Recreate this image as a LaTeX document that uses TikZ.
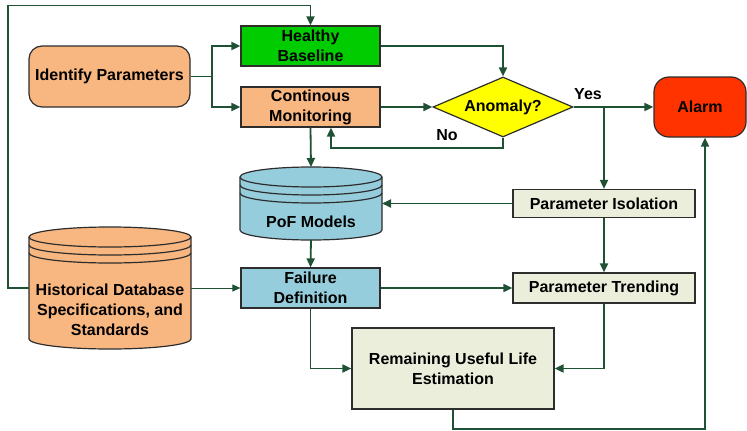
\documentclass[tikz,border=0pt]{standalone}
\usepackage{fontspec}
\setmainfont{Liberation Sans}
\usetikzlibrary{shapes.geometric,arrows.meta}

\definecolor{lineg}{RGB}{31,82,52}
\definecolor{edgeg}{RGB}{45,45,45}
\definecolor{healthy}{RGB}{0,204,0}
\definecolor{peach}{RGB}{248,182,128}
\definecolor{anomaly}{RGB}{255,255,0}
\definecolor{alarmred}{RGB}{255,51,0}
\definecolor{pofblue}{RGB}{150,205,220}
\definecolor{paper}{RGB}{236,238,220}

\tikzset{
  txt/.style={align=center, inner sep=0pt, font=\fontsize{16}{20}\selectfont\bfseries},
  box/.style={txt, draw=edgeg, line width=1.2pt},
  rbox/.style={box, rounded corners=13pt},
  drumline/.style={draw=edgeg, line width=1.2pt},
  arr/.style={draw=lineg, line width=1.8pt, -{Triangle[length=9pt,width=8pt]}},
}

% cylinder: centre x, half width, top, bottom, y radius, fill
\newcommand\drum[6]{%
  \filldraw[drumline, fill=#6] (#1-#2,#3+#5) -- (#1-#2,#4-#5)
    arc[start angle=180, end angle=360, x radius=#2pt, y radius=#5pt]
    -- (#1+#2,#3+#5)
    arc[start angle=0, end angle=180, x radius=#2pt, y radius=#5pt] -- cycle;
  \foreach \d in {0,8,16}
    \draw[drumline] (#1-#2,#3+#5+\d)
      arc[start angle=180, end angle=360, x radius=#2pt, y radius=#5pt];
}

\begin{document}
\begin{tikzpicture}[x=1pt, y=-1pt]
  \useasboundingbox (0,0) rectangle (747,431);

  % Draw databases
  \drum{311}{71}{167}{240}{10}{pofblue}
  \drum{110}{81}{227}{349}{10}{peach}
  \coordinate (poftop) at (311,167);
  \coordinate (pofbot) at (311,240);
  \coordinate (pofe)   at (382,204);
  \coordinate (hdbw)   at (29,288);
  \coordinate (hdbe)   at (191,288);
  \node[txt] (pof) at (311,222) {PoF Models};
  \node[txt] (hdb) at (110,310) {Historical Database\\Specifications, and\\Standards};

  % Draw boxes
  \node[rbox, fill=peach, minimum width=161pt, minimum height=61pt] (ip) at (109.5,76.5) {Identify Parameters};
  \node[box, fill=healthy, minimum width=139pt, minimum height=40pt] (hb) at (310.5,46) {Healthy\\Baseline};
  \node[box, fill=peach, minimum width=139pt, minimum height=40pt] (cm) at (310.5,107) {Continous\\Monitoring};
  \node[box, fill=anomaly, diamond, aspect=2.33, minimum width=140pt, minimum height=60pt] (an) at (503,107) {Anomaly?};
  \node[rbox, rounded corners=15pt, fill=alarmred, minimum width=92pt, minimum height=60pt] (al) at (700,107) {Alarm};
  \node[box, fill=paper, minimum width=182pt, minimum height=28pt] (pi) at (604,203.5) {Parameter Isolation};
  \node[box, fill=paper, minimum width=182pt, minimum height=30pt] (pt) at (604,288) {Parameter Trending};
  \node[box, fill=pofblue, minimum width=139pt, minimum height=40pt] (fd) at (310.5,288) {Failure\\Definition};
  \node[box, fill=paper, minimum width=202pt, minimum height=81pt] (rul) at (453,368.5) {Remaining Useful Life\\Estimation};

  % Draw labels
  \node[txt] (yes) at (588,94) {Yes};
  \node[txt] (no)  at (447,135) {No};

  % Draw connectors
  \draw[arr] (hdbw) -- ++(-21,0) |- ([yshift=20pt]hb.north) -- (hb.north);
  \draw[arr] (ip.east) -- ++(21,0) |- (hb.west);
  \draw[arr] (ip.east) -- ++(21,0) |- (cm.west);
  \draw[arr] (hb.east) -| (an.north);
  \draw[arr] (cm.east) -- (an.west);
  \draw[arr] (an.south) -- ++(0,10) -| ([xshift=20.5pt]cm.south);
  \draw[arr] (cm.south) -- (poftop);
  \draw[arr] (pofbot) -- (fd.north);
  \draw[arr] (an.east) -- (al.west);
  \draw[arr] (an.east -| pi.north) -- (pi.north);
  \draw[arr] (pi.west) -- (pi.west -| pofe);
  \draw[arr] (pi.south) -- (pt.north);
  \draw[arr] (fd.east) -- (pt.west);
  \draw[arr, line width=1pt, -{Triangle[length=8pt,width=7pt]}] (hdbe) -- (fd.west);
  \draw[arr] (pt.south) |- (rul.east);
  \draw[arr] (fd.south) |- (rul.west);
  \draw[arr] (rul.south) -- ++(0,19) -| ([xshift=5pt]al.south);
\end{tikzpicture}
\end{document}
